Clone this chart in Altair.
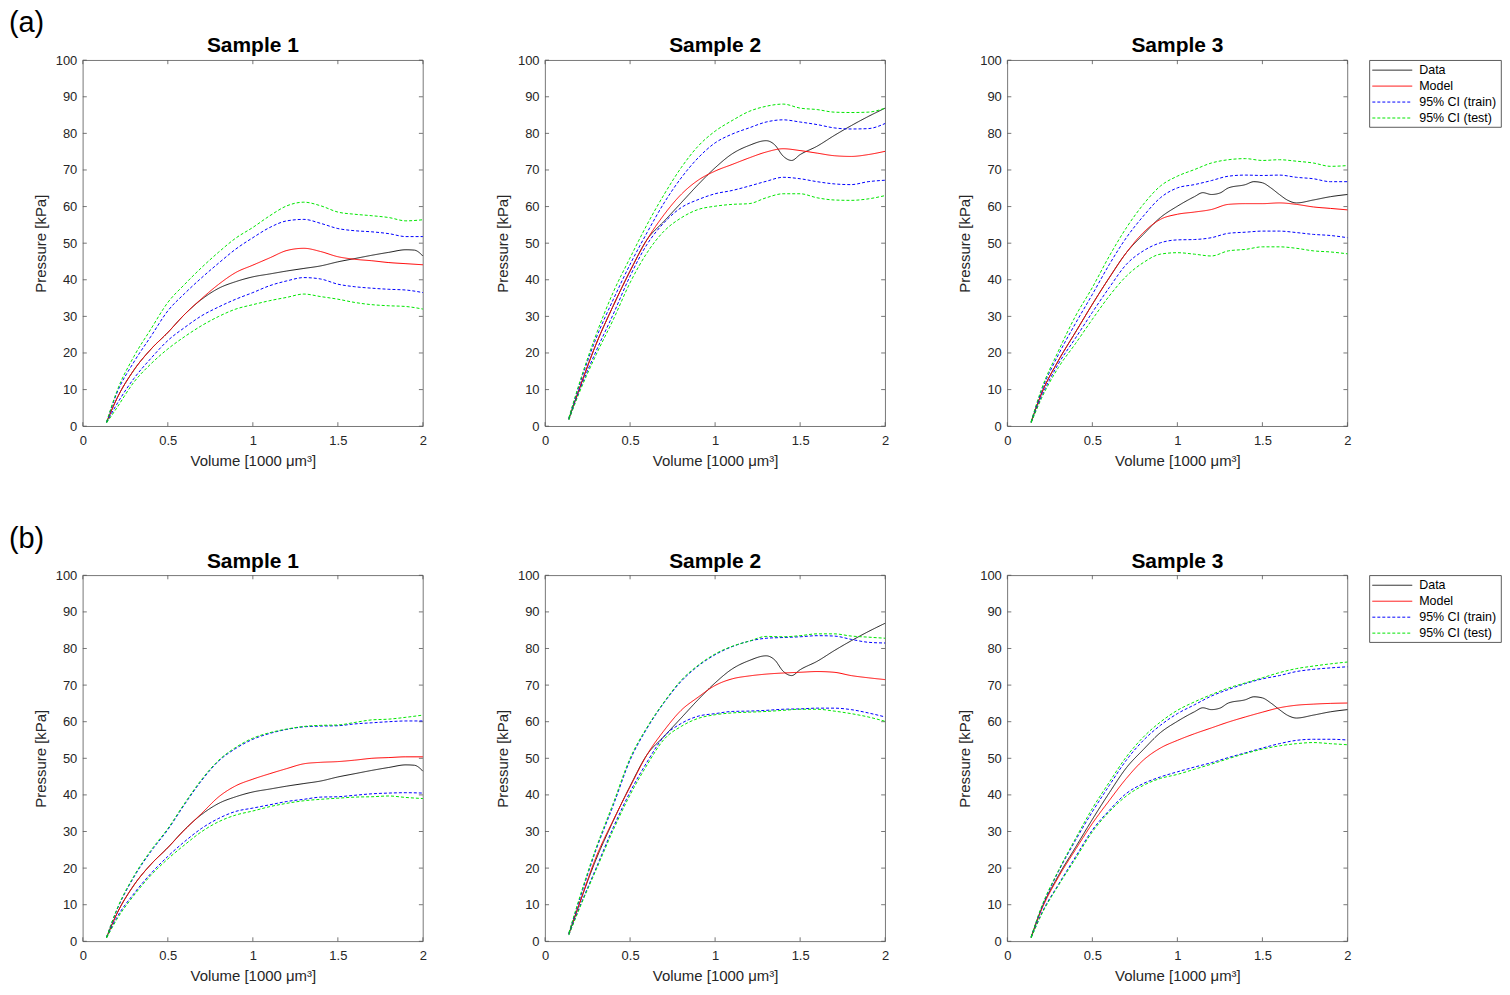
import altair as alt
import pandas as pd

FONT = "Liberation Sans"

# common x grid for model / confidence bands
X = [0.14, 0.2, 0.3, 0.4, 0.5, 0.6, 0.7, 0.8, 0.9, 1.0, 1.1, 1.2, 1.3, 1.4, 1.5, 1.6, 1.7, 1.8, 1.9, 2.0]

# measured data (same in (a) and (b))
S1_DATA_X = [0.14, 0.2, 0.3, 0.4, 0.5, 0.6, 0.7, 0.8, 0.9, 1.0, 1.1, 1.2, 1.3, 1.4, 1.5, 1.6, 1.7, 1.8, 1.9, 1.95, 2.0]
S1_DATA_Y = [1.1, 7.5, 15.3, 21, 25.6, 30.6, 34.7, 37.7, 39.5, 40.8, 41.6, 42.4, 43.1, 43.8, 44.9, 45.8, 46.7, 47.5, 48.2, 48.1, 46.5]
S2_DATA_X = [0.14, 0.2, 0.3, 0.4, 0.5, 0.6, 0.7, 0.8, 0.9, 1.0, 1.1, 1.2, 1.3, 1.35, 1.4, 1.45, 1.5, 1.6, 1.7, 1.8, 1.9, 2.0]
S2_DATA_Y = [2, 10, 22.4, 32.8, 42.4, 51, 56, 61, 66, 70.6, 74.4, 76.7, 78, 76.9, 73.8, 72.6, 74.2, 76.5, 79.4, 82.1, 84.6, 86.9]
S3_DATA_X = [0.14, 0.2, 0.3, 0.4, 0.5, 0.6, 0.7, 0.8, 0.9, 1.0, 1.1, 1.15, 1.2, 1.25, 1.3, 1.4, 1.45, 1.5, 1.55, 1.6, 1.65, 1.7, 1.8, 1.9, 2.0]
S3_DATA_Y = [1.1, 8.8, 17.9, 25.6, 33.3, 40.6, 47.4, 52.4, 57, 60.1, 62.7, 63.8, 63.3, 63.7, 65.1, 66, 66.8, 66.5, 65.1, 63.3, 61.7, 61, 61.8, 62.7, 63.3]

# (a) panels
A1_MODEL = [1.1, 7.5, 15.3, 21, 25.6, 30.6, 34.9, 38.8, 42, 44, 46, 48, 48.6, 47.7, 46.3, 45.6, 45.2, 44.7, 44.4, 44.1]
A1_TRAIN_UP = [1.1, 9, 17.5, 24.5, 31.5, 36.3, 40.6, 44.6, 48.4, 51.5, 54.3, 56.1, 56.5, 55.4, 54, 53.4, 53.1, 52.6, 51.8, 51.8]
A1_TRAIN_LO = [1, 6, 13, 18.5, 23.4, 27, 30.2, 32.6, 34.7, 36.5, 38.4, 39.7, 40.6, 40.2, 38.8, 38.1, 37.7, 37.4, 37.2, 36.5]
A1_TEST_UP = [1.2, 9.5, 19, 26.5, 33.8, 38.8, 43.4, 47.6, 51.4, 54.3, 57.5, 60.2, 61.2, 60.2, 58.5, 57.9, 57.5, 57, 56.1, 56.4]
A1_TEST_LO = [0.9, 5, 12, 17, 21.1, 24.5, 27.5, 30, 32, 33.2, 34.3, 35.2, 36.1, 35.4, 34.7, 33.8, 33.2, 32.9, 32.7, 32]

A2_MODEL = [2, 10, 22.4, 32.8, 42.4, 51, 57.8, 63.3, 67.2, 69.7, 71.5, 73.3, 74.9, 75.8, 75.3, 74.6, 73.9, 73.7, 74.2, 75.1]
A2_TRAIN_UP = [2.2, 11, 24, 34.5, 44.2, 52.9, 61, 67.8, 73.3, 77.4, 79.8, 81.5, 83.1, 83.7, 83.1, 82.4, 81.5, 81.2, 81.3, 82.7]
A2_TRAIN_LO = [1.8, 9.5, 20.5, 30.5, 41, 49.7, 55.6, 59.7, 61.9, 63.5, 64.4, 65.6, 66.9, 68, 67.6, 66.8, 66.2, 66, 66.8, 67.2]
A2_TEST_UP = [2.3, 11.5, 25, 36.5, 46, 55.1, 63.3, 70.6, 76.5, 80.6, 83.5, 86, 87.4, 88, 86.9, 86.5, 85.8, 85.7, 85.8, 86.9]
A2_TEST_LO = [1.7, 9, 19.5, 29, 39.2, 47.4, 53.3, 56.9, 59.2, 60.1, 60.6, 60.8, 62.4, 63.5, 63.5, 62.4, 61.8, 61.7, 62.1, 63]

A3_MODEL = [1.1, 8.8, 17.9, 25.6, 33.3, 40.6, 47.4, 52.9, 56.5, 57.9, 58.5, 59.2, 60.6, 60.8, 60.8, 61, 60.6, 59.9, 59.5, 59.1]
A3_TRAIN_UP = [1.2, 9.5, 19.5, 28, 36, 44.2, 51.5, 57.4, 62.4, 65.1, 66, 67.1, 68.3, 68.6, 68.5, 68.6, 68, 67.6, 66.8, 66.8]
A3_TRAIN_LO = [1, 8, 17, 24, 31.1, 37.9, 44.2, 47.9, 50.1, 50.9, 51, 51.5, 52.7, 53, 53.3, 53.3, 52.9, 52.4, 52.1, 51.5]
A3_TEST_UP = [1.3, 10, 20.5, 30, 37.9, 46.5, 54.2, 60.6, 65.6, 68.3, 70.1, 71.9, 72.8, 73.1, 72.6, 72.8, 72.4, 71.9, 71, 71.2]
A3_TEST_LO = [0.9, 7.5, 16, 22.5, 29.2, 35.6, 41, 44.7, 47, 47.4, 47, 46.5, 47.9, 48.3, 49, 49, 48.6, 47.9, 47.6, 47.1]

# (b) panels
B1_MODEL = [1.1, 7.5, 15.3, 21, 25.6, 30.5, 35, 39.5, 42.5, 44.3, 45.8, 47.2, 48.5, 48.9, 49.1, 49.5, 50, 50.2, 50.4, 50.4]
B1_TRAIN_UP = [1.2, 8.5, 17.5, 24.5, 30.5, 37.5, 44, 49.3, 52.7, 55.2, 56.8, 57.9, 58.6, 58.8, 58.9, 59.4, 59.7, 60, 60.2, 60.2]
B1_TRAIN_LO = [1, 6.5, 13, 18.5, 23.2, 27.3, 30.9, 33.6, 35.5, 36.4, 37.3, 38.2, 38.8, 39.4, 39.5, 39.9, 40.3, 40.5, 40.6, 40.5]
B1_TEST_UP = [1.2, 8.7, 17.8, 24.8, 30.8, 37.8, 44.3, 49.5, 53, 55.5, 57, 58, 58.7, 59, 59.1, 59.8, 60.5, 60.7, 61.2, 61.8]
B1_TEST_LO = [0.9, 6, 12.5, 18, 22.5, 26.4, 30, 32.7, 34.5, 35.6, 36.8, 37.7, 38.4, 38.8, 39.1, 39.4, 39.5, 39.7, 39.3, 39]

B2_MODEL = [2, 10, 23, 33, 42.2, 51, 57.6, 63.1, 66.7, 69.9, 71.7, 72.5, 73, 73.3, 73.5, 73.7, 73.5, 72.6, 72, 71.5]
B2_TRAIN_UP = [2.2, 11, 25, 37, 49.5, 58.2, 65.2, 71, 75.2, 78.3, 80.5, 82, 82.8, 83, 83.2, 83.5, 83.4, 82.5, 81.7, 81.5]
B2_TRAIN_LO = [1.8, 9, 20, 31, 40.8, 49, 56, 59.5, 61.5, 62.2, 62.8, 62.9, 63.1, 63.4, 63.5, 63.7, 63.7, 63.3, 62.4, 61.3]
B2_TEST_UP = [2.3, 11.5, 25.5, 37.6, 50, 58.5, 65.4, 71.3, 75.4, 78.5, 80.6, 82, 83.3, 83.2, 83.5, 84, 84, 83.4, 83.1, 82.8]
B2_TEST_LO = [1.7, 8.7, 19.5, 30.3, 40, 48.2, 55.2, 58.7, 60.9, 61.9, 62.4, 62.6, 62.8, 63.1, 63.4, 63.4, 62.9, 62.2, 61.3, 60.1]

B3_MODEL = [1.1, 8.5, 17.5, 25, 32.2, 38.5, 44.5, 49.5, 52.8, 54.9, 56.7, 58.3, 59.9, 61.3, 62.6, 63.8, 64.5, 64.8, 65, 65.1]
B3_TRAIN_UP = [1.2, 9, 19, 27.5, 35.4, 42.6, 49.5, 54.9, 59, 62.2, 64.6, 67, 68.8, 70.4, 71.7, 72.6, 73.7, 74.3, 74.7, 75]
B3_TRAIN_LO = [1, 7.5, 15.5, 23, 30.4, 35.8, 40.4, 43.1, 44.9, 46.3, 47.6, 48.8, 50.2, 51.5, 52.8, 54, 54.9, 55.2, 55.2, 55]
B3_TEST_UP = [1.3, 9.3, 19.3, 28, 36.3, 43.5, 50.4, 55.8, 59.9, 63.1, 65.4, 67.4, 69.2, 70.6, 72, 73.4, 74.5, 75.2, 75.8, 76.3]
B3_TEST_LO = [0.9, 7.2, 15.2, 22.5, 29.9, 35.4, 39.7, 42.6, 44.5, 45.6, 47, 48.4, 49.9, 51.3, 52.5, 53.4, 54, 54.3, 54, 53.7]

SERIES = ["Data", "Model", "95% CI (train)", "95% CI (test)"]
COLORS = ["#1a1a1a", "#ff0000", "#0000ff", "#00e600"]
DASHES = [[1, 0], [1, 0], [3, 2], [3, 2]]
X_TICKS = [0, 0.5, 1, 1.5, 2]
Y_TICKS = [0, 10, 20, 30, 40, 50, 60, 70, 80, 90, 100]

W, H = 341, 367
LEG_W, LEG_H = 132, 67
FRAME = "#555555"
X_TITLE = "Volume [1000 μm³]"
Y_TITLE = "Pressure [kPa]"

COLOR_SCALE = alt.Scale(domain=SERIES, range=COLORS)
DASH_SCALE = alt.Scale(domain=SERIES, range=DASHES)


def xenc(field):
    return alt.X(field, type="quantitative", title=X_TITLE,
                 scale=alt.Scale(domain=[0, 2], nice=False, zero=False),
                 axis=alt.Axis(values=X_TICKS, format="~g", grid=False, ticks=False, domain=False,
                               labelFlush=False, labelPadding=8, titlePadding=6))


def yenc(field):
    return alt.Y(field, type="quantitative", title=Y_TITLE,
                 scale=alt.Scale(domain=[0, 100], nice=False),
                 axis=alt.Axis(values=Y_TICKS, format="d", grid=False, ticks=False, domain=False,
                               labelFlush=False, labelPadding=6, titlePadding=7))


def panel(title, dx, dy, model, tr_up, tr_lo, te_up, te_lo):
    rows = []
    for x, y in zip(dx, dy):
        rows.append({"x": x, "y": y, "series": "Data", "line": "1data"})
    for name, line, vals in [("Model", "2model", model),
                             ("95% CI (train)", "3tr_up", tr_up), ("95% CI (train)", "3tr_lo", tr_lo),
                             ("95% CI (test)", "4te_up", te_up), ("95% CI (test)", "4te_lo", te_lo)]:
        for x, y in zip(X, vals):
            rows.append({"x": x, "y": y, "series": name, "line": line})
    df = pd.DataFrame(rows)

    lines = alt.Chart(df).mark_line(strokeWidth=1, interpolate="monotone").encode(
        x=xenc("x"), y=yenc("y"),
        color=alt.Color("series:N", scale=COLOR_SCALE, legend=None),
        strokeDash=alt.StrokeDash("series:N", scale=DASH_SCALE, legend=None),
        detail="line:N",
    )

    xt = pd.DataFrame({"x": X_TICKS})
    yt = pd.DataFrame({"y": Y_TICKS})
    tick_style = dict(color=FRAME, strokeWidth=0.8)
    t_bottom = alt.Chart(xt).mark_rule(**tick_style).encode(x=xenc("x"), y=alt.value(H), y2=alt.value(H - 4))
    t_top = alt.Chart(xt).mark_rule(**tick_style).encode(x=xenc("x"), y=alt.value(0), y2=alt.value(4))
    t_left = alt.Chart(yt).mark_rule(**tick_style).encode(y=yenc("y"), x=alt.value(0), x2=alt.value(4))
    t_right = alt.Chart(yt).mark_rule(**tick_style).encode(y=yenc("y"), x=alt.value(W), x2=alt.value(W - 4))

    return alt.layer(t_bottom, t_top, t_left, t_right, lines).properties(
        width=W, height=H,
        title=alt.TitleParams(title, fontSize=21, fontWeight="bold", font=FONT, color="black",
                              offset=-2.2, frame="group", anchor="middle"),
    )


def legend_box():
    ldf = pd.DataFrame({"series": SERIES, "rank": list(range(len(SERIES)))})
    yk = alt.Y("rank:Q", scale=alt.Scale(domain=[0, len(SERIES) - 1], range=[10, 58], nice=False, zero=False),
               axis=None)
    sym = alt.Chart(ldf).mark_rule(strokeWidth=1).encode(
        x=alt.value(3), x2=alt.value(43), y=yk,
        color=alt.Color("series:N", scale=COLOR_SCALE, legend=None),
        strokeDash=alt.StrokeDash("series:N", scale=DASH_SCALE, legend=None),
    )
    lab = alt.Chart(ldf).mark_text(align="left", baseline="middle", font=FONT, fontSize=12.5,
                                   color="black").encode(x=alt.value(50), y=yk, text="series:N")
    return alt.layer(sym, lab).properties(
        width=LEG_W, height=LEG_H,
        view=alt.ViewBackground(stroke="#333333", strokeWidth=0.8, fill="white"),
    )


def row(tag, panels):
    return alt.hconcat(
        panels[0], panels[1],
        alt.hconcat(panels[2], legend_box(), spacing=16),
        spacing=66.5,
        title=alt.TitleParams(tag, anchor="start", fontSize=29, fontWeight="normal", font=FONT,
                              color="black", dx=-24, offset=-3.4),
    )


row_a = row("(a)", [
    panel("Sample 1", S1_DATA_X, S1_DATA_Y, A1_MODEL, A1_TRAIN_UP, A1_TRAIN_LO, A1_TEST_UP, A1_TEST_LO),
    panel("Sample 2", S2_DATA_X, S2_DATA_Y, A2_MODEL, A2_TRAIN_UP, A2_TRAIN_LO, A2_TEST_UP, A2_TEST_LO),
    panel("Sample 3", S3_DATA_X, S3_DATA_Y, A3_MODEL, A3_TRAIN_UP, A3_TRAIN_LO, A3_TEST_UP, A3_TEST_LO),
])
row_b = row("(b)", [
    panel("Sample 1", S1_DATA_X, S1_DATA_Y, B1_MODEL, B1_TRAIN_UP, B1_TRAIN_LO, B1_TEST_UP, B1_TEST_LO),
    panel("Sample 2", S2_DATA_X, S2_DATA_Y, B2_MODEL, B2_TRAIN_UP, B2_TRAIN_LO, B2_TEST_UP, B2_TEST_LO),
    panel("Sample 3", S3_DATA_X, S3_DATA_Y, B3_MODEL, B3_TRAIN_UP, B3_TRAIN_LO, B3_TEST_UP, B3_TEST_LO),
])

chart = alt.vconcat(row_a, row_b, spacing=55.5).properties(
    padding=0, background="white"
).configure_view(
    stroke=FRAME, strokeWidth=0.8
).configure_axis(
    labelFont=FONT, labelFontSize=13, labelColor="#262626",
    titleFont=FONT, titleFontSize=15, titleFontWeight="normal", titleColor="#262626",
)

chart.save("out.html", embed_options={"renderer": "svg", "actions": False})
